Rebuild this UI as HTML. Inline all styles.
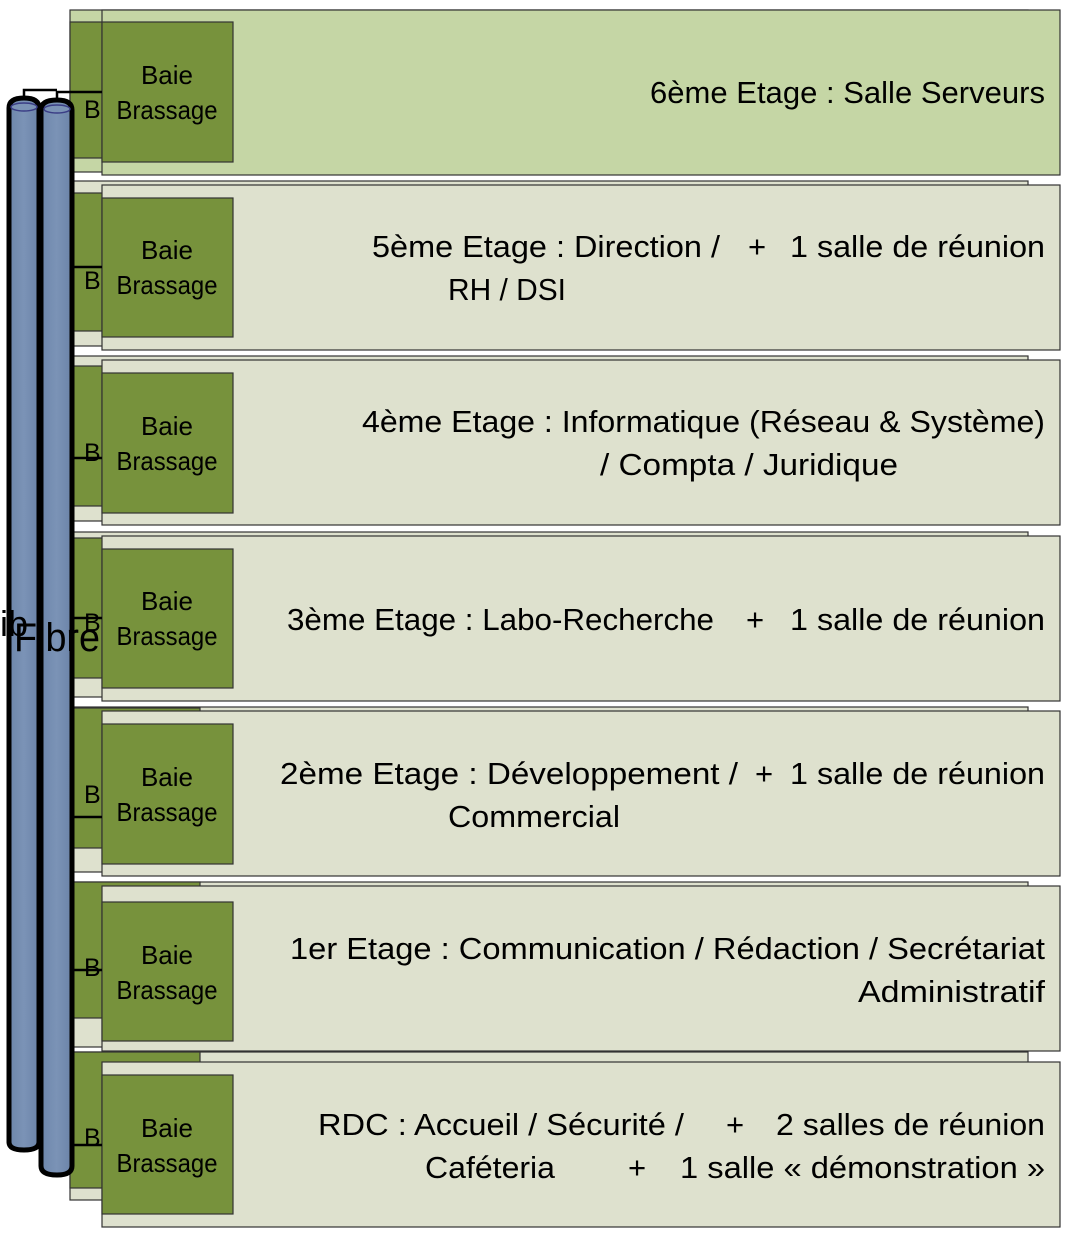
<!DOCTYPE html>
<html><head><meta charset="utf-8"><style>
html,body{margin:0;padding:0;background:#fff;width:1072px;height:1238px;overflow:hidden}
svg text{font-family:"Liberation Sans",sans-serif;fill:#000}
</style></head><body>
<svg width="1072" height="1238" xmlns="http://www.w3.org/2000/svg">
<defs>
<linearGradient id="cyl" x1="0" x2="1" y1="0" y2="0">
<stop offset="0" stop-color="#6d86ab"/><stop offset="0.5" stop-color="#7b93b6"/><stop offset="1" stop-color="#6b83a8"/>
</linearGradient>
</defs>
<g stroke="#333" stroke-width="1.2">
<rect x="70" y="10" width="958" height="162" fill="#c5d6a5"/>
<rect x="70" y="22" width="130" height="136" fill="#77923c"/>
<rect x="102" y="10" width="958" height="165" fill="#c5d6a5"/>
<rect x="102" y="22" width="131" height="140" fill="#77923c"/>
<rect x="70" y="181" width="958" height="165" fill="#dee1ce"/>
<rect x="70" y="193" width="130" height="138" fill="#77923c"/>
<rect x="102" y="185" width="958" height="165" fill="#dee1ce"/>
<rect x="102" y="198" width="131" height="139" fill="#77923c"/>
<rect x="70" y="356" width="958" height="165" fill="#dee1ce"/>
<rect x="70" y="366" width="130" height="140" fill="#77923c"/>
<rect x="102" y="360" width="958" height="165" fill="#dee1ce"/>
<rect x="102" y="373" width="131" height="140" fill="#77923c"/>
<rect x="70" y="532" width="958" height="165" fill="#dee1ce"/>
<rect x="70" y="538" width="130" height="140" fill="#77923c"/>
<rect x="102" y="536" width="958" height="165" fill="#dee1ce"/>
<rect x="102" y="549" width="131" height="139" fill="#77923c"/>
<rect x="70" y="707" width="958" height="165" fill="#dee1ce"/>
<rect x="70" y="708" width="130" height="140" fill="#77923c"/>
<rect x="102" y="711" width="958" height="165" fill="#dee1ce"/>
<rect x="102" y="724" width="131" height="140" fill="#77923c"/>
<rect x="70" y="882" width="958" height="165" fill="#dee1ce"/>
<rect x="70" y="882" width="130" height="136" fill="#77923c"/>
<rect x="102" y="886" width="958" height="165" fill="#dee1ce"/>
<rect x="102" y="902" width="131" height="139" fill="#77923c"/>
<rect x="70" y="1052" width="958" height="148" fill="#dee1ce"/>
<rect x="70" y="1052" width="130" height="136" fill="#77923c"/>
<rect x="102" y="1062" width="958" height="165" fill="#dee1ce"/>
<rect x="102" y="1075" width="131" height="139" fill="#77923c"/>
</g>
<g font-size="25">
<text x="84" y="118">B</text><text x="84" y="289">B</text><text x="84" y="461">B</text>
<text x="84" y="631">B</text><text x="84" y="803">B</text><text x="84" y="976">B</text><text x="84" y="1146">B</text>
</g>
<g stroke="#000" stroke-width="2.5" fill="none">
<polyline points="24,98 24,90 57,90"/>
<polyline points="57,98 57,92 102,92"/>
<line x1="73" y1="267" x2="102" y2="267"/>
<line x1="73" y1="458" x2="102" y2="458"/>
<line x1="73" y1="618" x2="102" y2="618"/>
<line x1="73" y1="817" x2="102" y2="817"/>
<line x1="73" y1="970" x2="102" y2="970"/>
<line x1="73" y1="1145" x2="102" y2="1145"/>
</g>
<g stroke="#000" stroke-width="5">
<path d="M9,108 Q9,98 24,98 Q39,98 39,108 L39,1142 Q39,1150 24,1150 Q9,1150 9,1142 Z" fill="url(#cyl)"/>
<path d="M41,110 Q41,100 57,100 Q72,100 72,110 L72,1166 Q72,1175 57,1175 Q41,1175 41,1166 Z" fill="url(#cyl)"/>
</g>
<ellipse cx="24" cy="107" rx="13" ry="4" fill="#7b93b6" stroke="#3a3d85" stroke-width="1.5"/>
<ellipse cx="57" cy="109" rx="13" ry="4" fill="#7b93b6" stroke="#3a3d85" stroke-width="1.5"/>
<text x="0" y="636" font-size="36">ib</text>
<text x="14" y="651" font-size="40" textLength="86" lengthAdjust="spacingAndGlyphs">Fibre</text>
<g font-size="26" text-anchor="middle">
<text x="167" y="84">Baie</text><text x="167" y="119" textLength="101" lengthAdjust="spacingAndGlyphs">Brassage</text>
<text x="167" y="259">Baie</text><text x="167" y="294" textLength="101" lengthAdjust="spacingAndGlyphs">Brassage</text>
<text x="167" y="435">Baie</text><text x="167" y="470" textLength="101" lengthAdjust="spacingAndGlyphs">Brassage</text>
<text x="167" y="610">Baie</text><text x="167" y="645" textLength="101" lengthAdjust="spacingAndGlyphs">Brassage</text>
<text x="167" y="786">Baie</text><text x="167" y="821" textLength="101" lengthAdjust="spacingAndGlyphs">Brassage</text>
<text x="167" y="964">Baie</text><text x="167" y="999" textLength="101" lengthAdjust="spacingAndGlyphs">Brassage</text>
<text x="167" y="1137">Baie</text><text x="167" y="1172" textLength="101" lengthAdjust="spacingAndGlyphs">Brassage</text>
</g>
<g font-size="31">
<text x="650" y="103" textLength="395" lengthAdjust="spacingAndGlyphs">6ème Etage : Salle Serveurs</text>
<text x="372" y="257" textLength="348" lengthAdjust="spacingAndGlyphs">5ème Etage : Direction /</text>
<text x="748" y="257">+</text>
<text x="790" y="257" textLength="255" lengthAdjust="spacingAndGlyphs">1 salle de réunion</text>
<text x="448" y="300" textLength="118" lengthAdjust="spacingAndGlyphs">RH / DSI</text>
<text x="362" y="432" textLength="683" lengthAdjust="spacingAndGlyphs">4ème Etage : Informatique (Réseau &amp; Système)</text>
<text x="600" y="475" textLength="298" lengthAdjust="spacingAndGlyphs">/ Compta / Juridique</text>
<text x="287" y="630" textLength="427" lengthAdjust="spacingAndGlyphs">3ème Etage : Labo-Recherche</text>
<text x="746" y="630">+</text>
<text x="790" y="630" textLength="255" lengthAdjust="spacingAndGlyphs">1 salle de réunion</text>
<text x="280" y="784" textLength="458" lengthAdjust="spacingAndGlyphs">2ème Etage : Développement  /</text>
<text x="755" y="784">+</text>
<text x="790" y="784" textLength="255" lengthAdjust="spacingAndGlyphs">1 salle de réunion</text>
<text x="448" y="827" textLength="172" lengthAdjust="spacingAndGlyphs">Commercial</text>
<text x="290" y="959" textLength="755" lengthAdjust="spacingAndGlyphs">1er Etage : Communication / Rédaction / Secrétariat</text>
<text x="858" y="1002" textLength="187" lengthAdjust="spacingAndGlyphs">Administratif</text>
<text x="318" y="1135" textLength="366" lengthAdjust="spacingAndGlyphs">RDC : Accueil /  Sécurité /</text>
<text x="726" y="1135">+</text>
<text x="776" y="1135" textLength="269" lengthAdjust="spacingAndGlyphs">2 salles de réunion</text>
<text x="425" y="1178" textLength="130" lengthAdjust="spacingAndGlyphs">Caféteria</text>
<text x="628" y="1178">+</text>
<text x="680" y="1178" textLength="365" lengthAdjust="spacingAndGlyphs">1 salle « démonstration »</text>
</g>
</svg>
</body></html>
